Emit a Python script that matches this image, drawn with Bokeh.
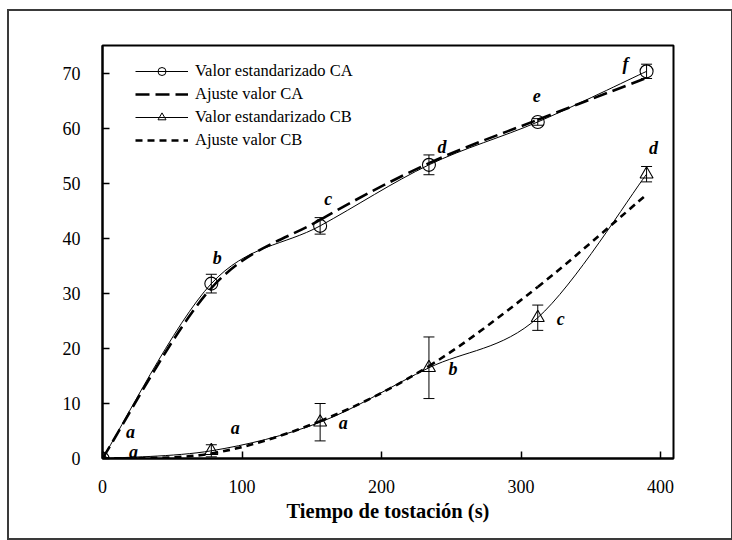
import numpy as np
from bokeh.plotting import figure
from bokeh.models import (ColumnDataSource, Whisker, TeeHead, Legend, LegendItem,
                          Range1d, FixedTicker)
from bokeh.core.properties import value
from bokeh.embed import file_html
from bokeh.resources import INLINE

# ---------------- data ----------------
tiempo = [0, 78, 156, 234, 312, 390]
ca_valor = [0.0, 31.8, 42.3, 53.4, 61.2, 70.4]
ca_error = [0.0, 1.7, 1.5, 1.8, 0.6, 1.3]
ca_ajuste = [0.0, 31.0, 43.4, 53.7, 61.6, 69.2]
cb_valor = [0.0, 1.4, 6.6, 16.5, 25.6, 51.7]
cb_error = [0.0, 1.1, 3.4, 5.6, 2.3, 1.4]
cb_ajuste = [0.0, 0.9, 6.8, 16.8, 31.2, 48.0]
ca_letras = ["a", "b", "c", "d", "e", "f"]
cb_letras = ["a", "a", "a", "b", "c", "d"]
x_ticks = [0, 100, 200, 300, 400]
y_ticks = [0, 10, 20, 30, 40, 50, 60, 70]
x_label = "Tiempo de tostación (s)"
legend_labels = ["Valor estandarizado CA", "Ajuste valor CA",
                 "Valor estandarizado CB", "Ajuste valor CB"]

# label offsets (screen px) - styling only
ca_dx = [28, 6, 8, 13, -1, -21]
ca_dy = [-27, -26, -27, -18, -26, -7]
cb_dx = [31, 24, 23, 24, 23, 7]
cb_dy = [-7, -23, 1, 1, 1, -26]

SERIF = "Liberation Serif"


def smooth_segments(xs, ys):
    """Bezier control points for a smoothed line through the given points."""
    n = len(xs)
    x0, y0, x1, y1, cx0, cy0, cx1, cy1 = [], [], [], [], [], [], [], []
    for i in range(n - 1):
        im = max(i - 1, 0)
        ip2 = min(i + 2, n - 1)
        x0.append(xs[i]); y0.append(ys[i])
        x1.append(xs[i + 1]); y1.append(ys[i + 1])
        cx0.append(xs[i] + (xs[i + 1] - xs[im]) / 6.0)
        cy0.append(ys[i] + (ys[i + 1] - ys[im]) / 6.0)
        cx1.append(xs[i + 1] - (xs[ip2] - xs[i]) / 6.0)
        cy1.append(ys[i + 1] - (ys[ip2] - ys[i]) / 6.0)
    return ColumnDataSource(dict(x0=x0, y0=y0, x1=x1, y1=y1,
                                 cx0=cx0, cy0=cy0, cx1=cx1, cy1=cy1))


p = figure(frame_width=571, frame_height=413,
           min_border_left=93, min_border_right=58,
           min_border_top=34, min_border_bottom=80,
           x_range=Range1d(0, 409.3), y_range=Range1d(0, 75.1),
           output_backend="svg", toolbar_location=None,
           background_fill_color="white", border_fill_color="white",
           styles={"border": "2px solid #3a3a3a"}, margin=(9, 0, 0, 7))

p.grid.visible = False
p.outline_line_color = "black"
p.outline_line_width = 2
p.outline_line_alpha = 1

for ax in (p.xaxis[0], p.yaxis[0]):
    ax.axis_line_width = 2
    ax.axis_line_color = "black"
    ax.major_tick_in = 7
    ax.major_tick_out = 0
    ax.major_tick_line_width = 1.5
    ax.major_tick_line_color = "black"
    ax.minor_tick_line_color = None
    ax.major_label_text_font = SERIF
    ax.major_label_text_font_size = "18px"
    ax.major_label_text_color = "black"

p.xaxis.ticker = FixedTicker(ticks=x_ticks)
p.yaxis.ticker = FixedTicker(ticks=y_ticks)
p.xaxis.major_label_standoff = 21
p.yaxis.major_label_standoff = 22
p.xaxis.axis_label = x_label
p.xaxis.axis_label_text_font = SERIF
p.xaxis.axis_label_text_font_style = "bold"
p.xaxis.axis_label_text_font_size = "20.5px"
p.xaxis.axis_label_text_color = "black"
p.xaxis.axis_label_standoff = 4

# ---------------- curves ----------------
src_ca = smooth_segments(tiempo, ca_valor)
src_caf = smooth_segments(tiempo, ca_ajuste)
src_cb = smooth_segments(tiempo, cb_valor)
src_cbf = smooth_segments(tiempo, cb_ajuste)

kw = dict(x0="x0", y0="y0", x1="x1", y1="y1", cx0="cx0", cy0="cy0", cx1="cx1", cy1="cy1")
p.bezier(source=src_caf, line_color="black", line_width=2.6, line_dash="14 6", **kw)
p.bezier(source=src_cbf, line_color="black", line_width=2.6, line_dash="7 5", **kw)
p.bezier(source=src_ca, line_color="black", line_width=1, **kw)
p.bezier(source=src_cb, line_color="black", line_width=1, **kw)

# ---------------- error bars ----------------
def whisker_source(xs, ys, es):
    xx, lo, up = [], [], []
    for x, y, e in zip(xs, ys, es):
        if e > 0:
            xx.append(x); lo.append(y - e); up.append(y + e)
    return ColumnDataSource(dict(x=xx, lower=lo, upper=up))

for xs, ys, es in ((tiempo, ca_valor, ca_error), (tiempo, cb_valor, cb_error)):
    w = Whisker(base="x", lower="lower", upper="upper",
                source=whisker_source(xs, ys, es),
                line_color="black", line_width=1,
                upper_head=TeeHead(size=11, line_color="black", line_width=1),
                lower_head=TeeHead(size=11, line_color="black", line_width=1))
    p.add_layout(w)

# ---------------- markers ----------------
p.scatter(tiempo, ca_valor, marker="circle", size=13, fill_alpha=0,
          line_color="black", line_width=1.1)
p.scatter(tiempo, cb_valor, marker="triangle", size=13, fill_alpha=0,
          line_color="black", line_width=1.1)

# ---------------- letters ----------------
p.text(x=tiempo, y=ca_valor, text=ca_letras, x_offset=ca_dx, y_offset=ca_dy,
       text_font=value(SERIF), text_font_style="bold italic", text_font_size="18px",
       text_align="center", text_baseline="middle", text_color="black")
p.text(x=tiempo, y=cb_valor, text=cb_letras, x_offset=cb_dx, y_offset=cb_dy,
       text_font=value(SERIF), text_font_style="bold italic", text_font_size="18px",
       text_align="center", text_baseline="middle", text_color="black")

# ---------------- legend (proxy renderers placed outside the visible range) ----------------
off_x = [-1000, -999]
off_y = [-1000, -1000]
l_ca = p.line(off_x, off_y, line_color="black", line_width=1)
m_ca = p.scatter(off_x, off_y, marker="circle", fill_alpha=0, line_color="black", line_width=1)
l_caf = p.line(off_x, off_y, line_color="black", line_width=2.6, line_dash="14 6")
l_cb = p.line(off_x, off_y, line_color="black", line_width=1)
m_cb = p.scatter(off_x, off_y, marker="triangle", fill_alpha=0, line_color="black", line_width=1)
l_cbf = p.line(off_x, off_y, line_color="black", line_width=2.6, line_dash="7 5")

legend = Legend(items=[
    LegendItem(label=legend_labels[0], renderers=[l_ca, m_ca]),
    LegendItem(label=legend_labels[1], renderers=[l_caf]),
    LegendItem(label=legend_labels[2], renderers=[l_cb, m_cb]),
    LegendItem(label=legend_labels[3], renderers=[l_cbf]),
], location=(33, 308), orientation="vertical",
    glyph_width=53, glyph_height=20, label_height=20, label_standoff=7,
    spacing=3, padding=0, margin=0,
    label_text_font=SERIF, label_text_font_size="16.5px", label_text_color="black",
    border_line_color=None, background_fill_alpha=0)
p.add_layout(legend)

open("out.html", "w").write(file_html(p, INLINE))
